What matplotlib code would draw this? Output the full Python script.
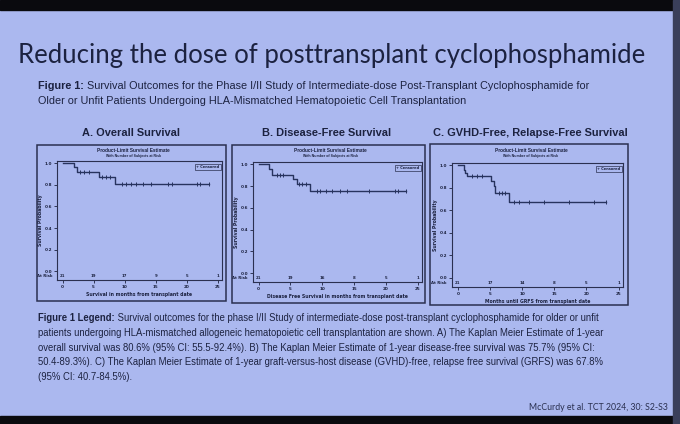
import matplotlib
matplotlib.use("Agg")
import matplotlib.pyplot as plt
import numpy as np
from matplotlib.patches import Rectangle

# ---- data ----
panel_titles = ["A. Overall Survival", "B. Disease-Free Survival",
                "C. GVHD-Free, Relapse-Free Survival"]
x_labels = ["Survival in months from transplant date",
            "Disease Free Survival in months from transplant date",
            "Months until GRFS from transplant date"]

# event times (months) and survival after each step
os_times = [0, 1.9, 2.4, 5.8, 8.5]
os_surv = [1.0, 0.962, 0.917, 0.869, 0.806]
os_end = 23.6
os_cens = [2.8, 3.5, 4.2, 6.3, 7.0, 7.6, 9.5, 10.3, 11.1, 11.9, 13.0, 14.2,
           17.0, 17.7, 21.7, 22.2, 23.6]
os_risk = [21, 19, 17, 9, 5, 1]

dfs_times = [0, 1.6, 2.1, 5.4, 6.0, 8.1]
dfs_surv = [1.0, 0.952, 0.905, 0.86, 0.82, 0.757]
dfs_end = 23.2
dfs_cens = [2.8, 3.3, 3.8, 6.3, 6.8, 7.4, 9.1, 9.6, 10.6, 11.5, 12.8, 13.9,
            17.4, 21.4, 21.9, 23.2]
dfs_risk = [21, 19, 16, 8, 5, 1]

grfs_times = [0, 0.9, 1.15, 1.4, 5.2, 5.6, 5.85, 7.9]
grfs_surv = [1.0, 0.96, 0.93, 0.905, 0.86, 0.82, 0.75, 0.678]
grfs_end = 23.1
grfs_cens = [2.2, 3.0, 3.75, 6.4, 6.9, 7.4, 8.7, 9.5, 11.1, 13.4, 17.3, 21.2, 23.1]
grfs_risk = [21, 17, 14, 8, 5, 1]

risk_ticks = [0, 5, 10, 15, 20, 25]

title = "Reducing the dose of posttransplant cyclophosphamide"
fig_caption = [("Figure 1:", " Survival Outcomes for the Phase I/II Study of Intermediate-dose "
                "Post-Transplant Cyclophosphamide for"),
               ("", "Older or Unfit Patients Undergoing HLA-Mismatched Hematopoietic Cell Transplantation")]
legend_lines = [
    ("Figure 1 Legend:", " Survival outcomes for the phase I/II Study of intermediate-dose "
     "post-transplant cyclophosphamide for older or unfit"),
    ("", "patients undergoing HLA-mismatched allogeneic hematopoietic cell transplantation "
     "are shown. A) The Kaplan Meier Estimate of 1-year"),
    ("", "overall survival was 80.6% (95% CI: 55.5-92.4%). B) The Kaplan Meier Estimate of "
     "1-year disease-free survival was 75.7% (95% CI:"),
    ("", "50.4-89.3%). C) The Kaplan Meier Estimate of 1-year graft-versus-host disease "
     "(GVHD)-free, relapse free survival (GRFS) was 67.8%"),
    ("", "(95% CI: 40.7-84.5%)."),
]
citation = "McCurdy et al. TCT 2024, 30: S2-S3"

# ---- styling ----
W, H = 680, 424
bg = "#abb8ef"
ink = "#1c2240"
line_col = "#27335e"
narrow = ["Liberation Sans Narrow", "Liberation Sans", "DejaVu Sans"]

fig = plt.figure(figsize=(W / 100, H / 100), dpi=100)
fig.patch.set_facecolor(bg)


def px(x, y):
    return x / W, 1 - y / H


def add_rect(x0, y0, x1, y1, **kw):
    fig.patches.append(Rectangle((x0 / W, 1 - y1 / H), (x1 - x0) / W, (y1 - y0) / H,
                                 transform=fig.transFigure, **kw))


# dark borders of the photo
add_rect(0, 0, W, 10, color="#0a0a0e", zorder=0)
add_rect(0, 416, W, H, color="#0a0a0e", zorder=0)
add_rect(673, 0, W, H, color="#3a3f5a", zorder=0)

fig.text(*px(18, 55), title, family=["Lato", "DejaVu Sans"], fontsize=18.5,
         color=ink, va="center", ha="left")

renderer = fig.canvas.get_renderer()


def rich_line(x, y, bold, rest, size):
    t = fig.text(*px(x, y), bold, family=narrow, weight="bold", fontsize=size,
                 color=ink, va="center", ha="left")
    xr = x
    if bold:
        bb = t.get_window_extent(renderer)
        xr = bb.x1
    fig.text(xr / W, 1 - y / H, rest, family=narrow, fontsize=size,
             color=ink, va="center", ha="left")


for i, (b, r) in enumerate(fig_caption):
    rich_line(38, 86 + i * 15, b, r, 7.8)

for i, (b, r) in enumerate(legend_lines):
    rich_line(38, 318 + i * 14.8, b, r, 6.85)

fig.text(*px(668, 407), citation, family=["Lato", "DejaVu Sans"], fontsize=6.3,
         color="#2a3050", ha="right", va="center")

panels = [
    dict(times=os_times, surv=os_surv, end=os_end, cens=os_cens, risk=os_risk,
         box=(37, 145, 226, 301), ax=(57, 161, 222, 280), tc=131),
    dict(times=dfs_times, surv=dfs_surv, end=dfs_end, cens=dfs_cens, risk=dfs_risk,
         box=(232, 145, 425, 303), ax=(253, 162, 422, 282), tc=327),
    dict(times=grfs_times, surv=grfs_surv, end=grfs_end, cens=grfs_cens, risk=grfs_risk,
         box=(430, 144, 628, 305), ax=(452, 163, 623, 287), tc=530),
]

for k, p in enumerate(panels):
    bx0, by0, bx1, by1 = p["box"]
    add_rect(bx0, by0, bx1, by1, facecolor="none", edgecolor="#2b3050", lw=1.1, zorder=1)
    fig.text(*px(p["tc"], 133), panel_titles[k], family=narrow, weight="bold",
             fontsize=7.9, color=ink, ha="center", va="center")
    cx = (bx0 + bx1) / 2
    fig.text(*px(cx + 2, 151), "Product-Limit Survival Estimate", family=narrow,
             weight="bold", fontsize=3.4, color=ink, ha="center", va="center")
    fig.text(*px(cx + 2, 155.5), "With Number of Subjects at Risk", family=narrow,
             weight="bold", fontsize=2.5, color=ink, ha="center", va="center")

    ax0, ay0, ax1, ay1 = p["ax"]
    ax = fig.add_axes([ax0 / W, 1 - ay1 / H, (ax1 - ax0) / W, (ay1 - ay0) / H])
    ax.set_facecolor("none")
    ax.set_xlim(-0.9, 25.7)
    ax.set_ylim(-0.08, 1.02)
    for s in ax.spines.values():
        s.set_color("#2b3050")
        s.set_linewidth(0.8)

    t = np.array(p["times"] + [p["end"]])
    s = np.array(p["surv"] + [p["surv"][-1]])
    ax.step(t, s, where="post", color=line_col, lw=1.0)
    cens = np.array(p["cens"])
    idx = np.searchsorted(t, cens, side="right") - 1
    ax.plot(cens, s[idx], ls="none", marker="|", ms=2.8, mew=0.7, color=line_col)

    ax.set_yticks([0, 0.2, 0.4, 0.6, 0.8, 1.0])
    ax.set_yticklabels(["0.0", "0.2", "0.4", "0.6", "0.8", "1.0"])
    ax.set_xticks(risk_ticks)
    ax.tick_params(labelsize=3, length=2, width=0.6, pad=1.5, colors=ink)
    for lab in ax.get_xticklabels() + ax.get_yticklabels():
        lab.set_fontweight("bold")
    ax.set_ylabel("Survival Probability", fontsize=3.3, weight="bold", color=ink, labelpad=1)
    ax.set_xlabel(x_labels[k], fontsize=3.3, weight="bold", color=ink, labelpad=2.5)

    for xv, n in zip(risk_ticks, p["risk"]):
        ax.text(xv, -0.045, str(n), fontsize=2.8, weight="bold", color=ink,
                ha="center", va="center")
    ax.text(-0.03, -0.045, "At Risk", transform=ax.get_yaxis_transform(), fontsize=2.8,
            weight="bold", color=ink, ha="right", va="center")

    # legend box
    ax.text(0.985, 0.965, "+ Censored", transform=ax.transAxes, fontsize=2.6,
            weight="bold", color=ink, ha="right", va="top",
            bbox=dict(boxstyle="square,pad=0.3", fc="none", ec="#2b3050", lw=0.5))

fig.savefig("out.png", dpi=100, facecolor=fig.get_facecolor())
